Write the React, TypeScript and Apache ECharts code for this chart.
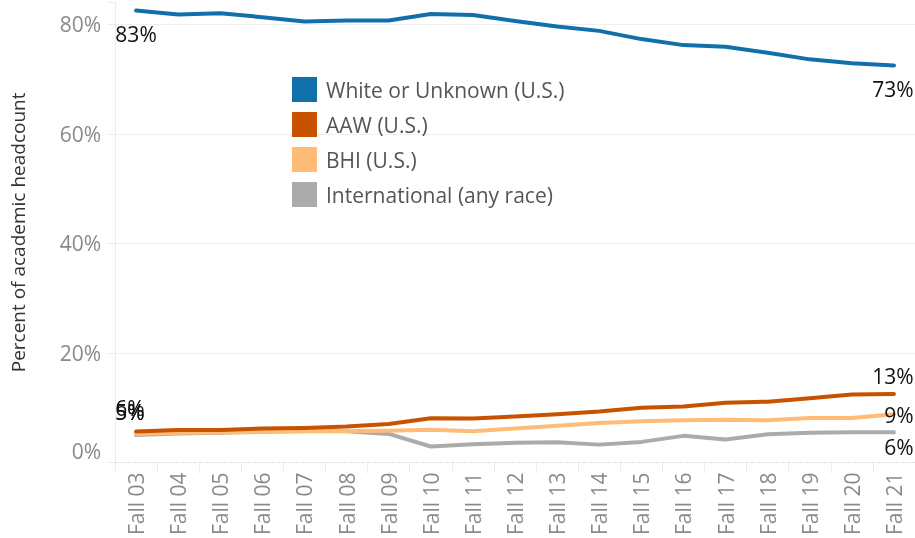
import React, { useEffect, useRef } from "react";
import * as echarts from "echarts";

const categories = [
  "Fall 03", "Fall 04", "Fall 05", "Fall 06", "Fall 07", "Fall 08", "Fall 09", "Fall 10", "Fall 11", "Fall 12",
  "Fall 13", "Fall 14", "Fall 15", "Fall 16", "Fall 17", "Fall 18", "Fall 19", "Fall 20", "Fall 21",
];
const whiteUnknown = [82.5, 81.8, 82.0, 81.3, 80.5, 80.7, 80.7, 81.9, 81.7, 80.6, 79.6, 78.8, 77.3, 76.2, 75.9, 74.8, 73.6, 72.9, 72.5];
const aaw = [5.65, 5.9, 5.9, 6.2, 6.3, 6.55, 7.0, 8.05, 8.0, 8.4, 8.8, 9.3, 10.0, 10.2, 10.9, 11.1, 11.7, 12.4, 12.5];
const bhi = [5.2, 5.4, 5.45, 5.65, 5.75, 5.75, 5.8, 5.95, 5.7, 6.2, 6.7, 7.2, 7.5, 7.7, 7.8, 7.7, 8.1, 8.1, 8.8];
const international = [5.0, 5.3, 5.4, 5.6, 5.7, 5.7, 5.2, 2.9, 3.3, 3.6, 3.7, 3.25, 3.75, 4.85, 4.2, 5.15, 5.4, 5.5, 5.5];
const yTicks = [0, 20, 40, 60, 80];

const FONT = "'Open Sans', 'Noto Sans', sans-serif";

type LabelSpec = { dx: number; dy: number };

function buildData(values: number[], first: LabelSpec, last: LabelSpec) {
  return values.map((v, i) => {
    const spec = i === 0 ? first : i === values.length - 1 ? last : null;
    if (!spec) return { value: v };
    return {
      value: v,
      label: {
        show: true,
        position: "inside",
        offset: [spec.dx, spec.dy],
        formatter: () => Math.round(v) + "%",
        color: "#111",
        fontSize: 21,
        fontFamily: FONT,
      },
    };
  });
}

export default function App() {
  const ref = useRef<HTMLDivElement>(null);
  useEffect(() => {
    if (!ref.current) return;
    const chart = echarts.init(ref.current, undefined, { renderer: "svg" });
    const lineSeries = (name: string, color: string, data: any[]) => ({
      name,
      type: "line",
      data,
      symbol: "circle",
      symbolSize: 1,
      showSymbol: true,
      itemStyle: { color },
      lineStyle: { color, width: 4, cap: "round", join: "round" },
      label: { show: false },
      emphasis: { disabled: true },
    });
    chart.setOption({
      animation: false,
      textStyle: { fontFamily: FONT },
      grid: { left: 115, right: -4, top: 2.4, bottom: 74.7, containLabel: false },
      legend: {
        data: ["White or Unknown (U.S.)", "AAW (U.S.)", "BHI (U.S.)", "International (any race)"],
        orient: "vertical",
        left: 292,
        top: 77,
        padding: 0,
        itemWidth: 25,
        itemHeight: 25,
        itemGap: 10,
        icon: "rect",
        selectedMode: false,
        textStyle: { fontSize: 21, color: "#555", fontFamily: FONT, padding: [0, 0, 0, 4] },
      },
      xAxis: {
        type: "category",
        data: categories,
        boundaryGap: true,
        axisLine: { show: true, lineStyle: { color: "#e2e2e2", type: "dashed", width: 1 } },
        axisTick: { show: true, length: 11, lineStyle: { color: "#ececec" } },
        axisLabel: { rotate: 90, margin: 10, fontSize: 21, color: "#8a8a8a", fontFamily: FONT, interval: 0 },
        splitLine: { show: false },
      },
      yAxis: {
        type: "value",
        min: 0,
        max: 84,
        interval: 20,
        name: "Percent of academic headcount",
        nameLocation: "middle",
        nameGap: 88,
        nameTextStyle: { fontSize: 19, color: "#333", fontFamily: FONT },
        axisLine: { show: true, lineStyle: { color: "#ececec" } },
        axisTick: { show: true, length: 8, lineStyle: { color: "#ececec" } },
        splitLine: {
          show: true,
          lineStyle: { color: ["transparent", "#efefef", "#efefef", "#efefef", "#efefef", "transparent"] },
        },
        axisLabel: {
          margin: 14,
          formatter: (v: number) => {
            if (!yTicks.includes(v)) return "";
            return v === 0 ? "{z|0%}" : "{n|" + v + "%}";
          },
          rich: {
            z: { fontSize: 21, color: "#8a8a8a", fontFamily: FONT, padding: [0, 0, 23, 0] },
            n: { fontSize: 21, color: "#8a8a8a", fontFamily: FONT },
          },
        },
      },
      series: [
        lineSeries("International (any race)", "#ababab", buildData(international, { dx: -6, dy: -23 }, { dx: 5, dy: 15 })),
        lineSeries("BHI (U.S.)", "#ffbc79", buildData(bhi, { dx: -6, dy: -22 }, { dx: 5, dy: 1 })),
        lineSeries("AAW (U.S.)", "#c85200", buildData(aaw, { dx: -6, dy: -23 }, { dx: -1, dy: -18 })),
        lineSeries("White or Unknown (U.S.)", "#1170aa", buildData(whiteUnknown, { dx: 0, dy: 23 }, { dx: -1, dy: 23.5 })),
      ],
    });
    return () => chart.dispose();
  }, []);
  return <div ref={ref} style={{ position: "fixed", left: 0, top: 0, width: 915, height: 538 }} />;
}
